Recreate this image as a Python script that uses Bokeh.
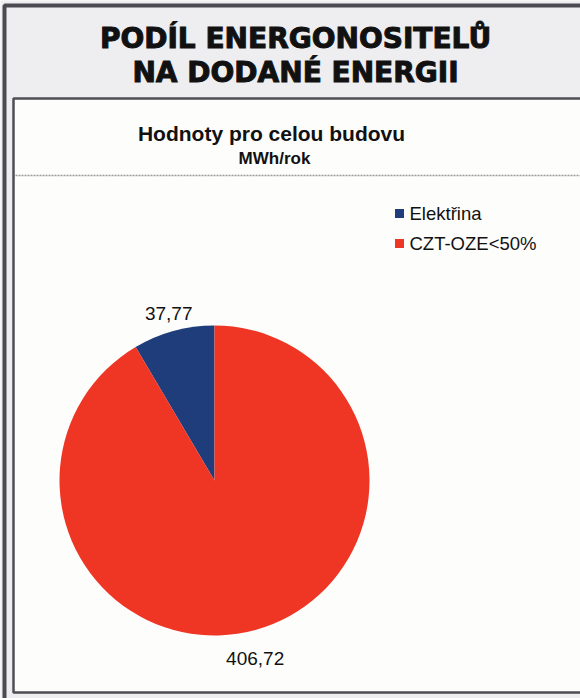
import math
from bokeh.plotting import figure
from bokeh.models import Range1d, ColumnDataSource
from bokeh.core.properties import value
from bokeh.embed import file_html
from bokeh.resources import INLINE

# ---- data ----
categories = ["Elektřina", "CZT-OZE<50%"]
values = [37.77, 406.72]
value_labels = ["37,77", "406,72"]
colors = ["#1f3d7a", "#ef3524"]

title_lines = ["PODÍL ENERGONOSITELŮ", "NA DODANÉ ENERGII"]
chart_title = "Hodnoty pro celou budovu"
chart_unit = "MWh/rok"

W, H = 580, 698


def Y(py):
    return H - py


p = figure(width=W, height=H, x_range=Range1d(0, W), y_range=Range1d(0, H),
           output_backend="svg", toolbar_location=None, min_border=0)
p.axis.visible = False
p.grid.visible = False
p.outline_line_color = None
p.background_fill_color = "#eeedf0"
p.border_fill_color = "#eeedf0"

# outer frame
p.quad(left=[4], right=[600], top=[Y(5)], bottom=[Y(720)],
       fill_color="#eeedf0", line_color="#4b4a52", line_width=4)
# inner chart area
p.quad(left=[13], right=[600], top=[Y(98)], bottom=[Y(692)],
       fill_color="#fdfdfc", line_color="#4f4e55", line_width=2.5)
# dashed separator
p.line(x=[15, 580], y=[Y(175), Y(175)], line_color="#9a9a9a",
       line_width=1.5, line_dash="2 1")

# titles
p.text(x=[295, 295], y=[Y(38), Y(72)], text=title_lines,
       text_font=value("DejaVu Sans"), text_font_style="bold",
       text_font_size="28px", text_align="center", text_baseline="middle",
       text_color="#111111", text_outline_color="#111111")
p.text(x=[271], y=[Y(133)], text=[chart_title],
       text_font=value("Liberation Sans"), text_font_style="bold",
       text_font_size="21px", text_align="center", text_baseline="middle",
       text_color="#111111")
p.text(x=[274], y=[Y(158)], text=[chart_unit],
       text_font=value("Liberation Sans"), text_font_style="bold",
       text_font_size="17px", text_align="center", text_baseline="middle",
       text_color="#111111")

# pie
cx, cy, r = 214, Y(480), 155
total = sum(values)
starts, ends, mids = [], [], []
a = math.pi / 2
for v in values:
    span = v / total * 2 * math.pi
    starts.append(a)
    ends.append(a + span)
    mids.append(a + span / 2)
    a += span

src = ColumnDataSource(dict(start=starts, end=ends, color=colors))
p.wedge(x=cx, y=cy, radius=r, start_angle="start", end_angle="end",
        direction="anticlock", fill_color="color", line_color=None, source=src)

lr = [r * 1.12, r * 1.19]
lx = [cx + lr[i] * math.cos(mids[i]) for i in range(len(values))]
ly = [cy + lr[i] * math.sin(mids[i]) for i in range(len(values))]
lx[1] -= 8
p.text(x=lx, y=ly, text=value_labels, text_font=value("Liberation Sans"),
       text_font_size="19px", text_align="center", text_baseline="middle",
       text_color="#111111")

# legend
leg_y = [Y(213), Y(243)]
p.rect(x=[399] * len(categories), y=leg_y, width=9, height=9,
       fill_color=colors, line_color=None)
p.text(x=[409] * len(categories), y=leg_y, text=categories,
       text_font=value("Liberation Sans"), text_font_size="18.5px",
       text_align="left", text_baseline="middle", text_color="#111111")

open("out.html", "w").write(file_html(p, INLINE))
